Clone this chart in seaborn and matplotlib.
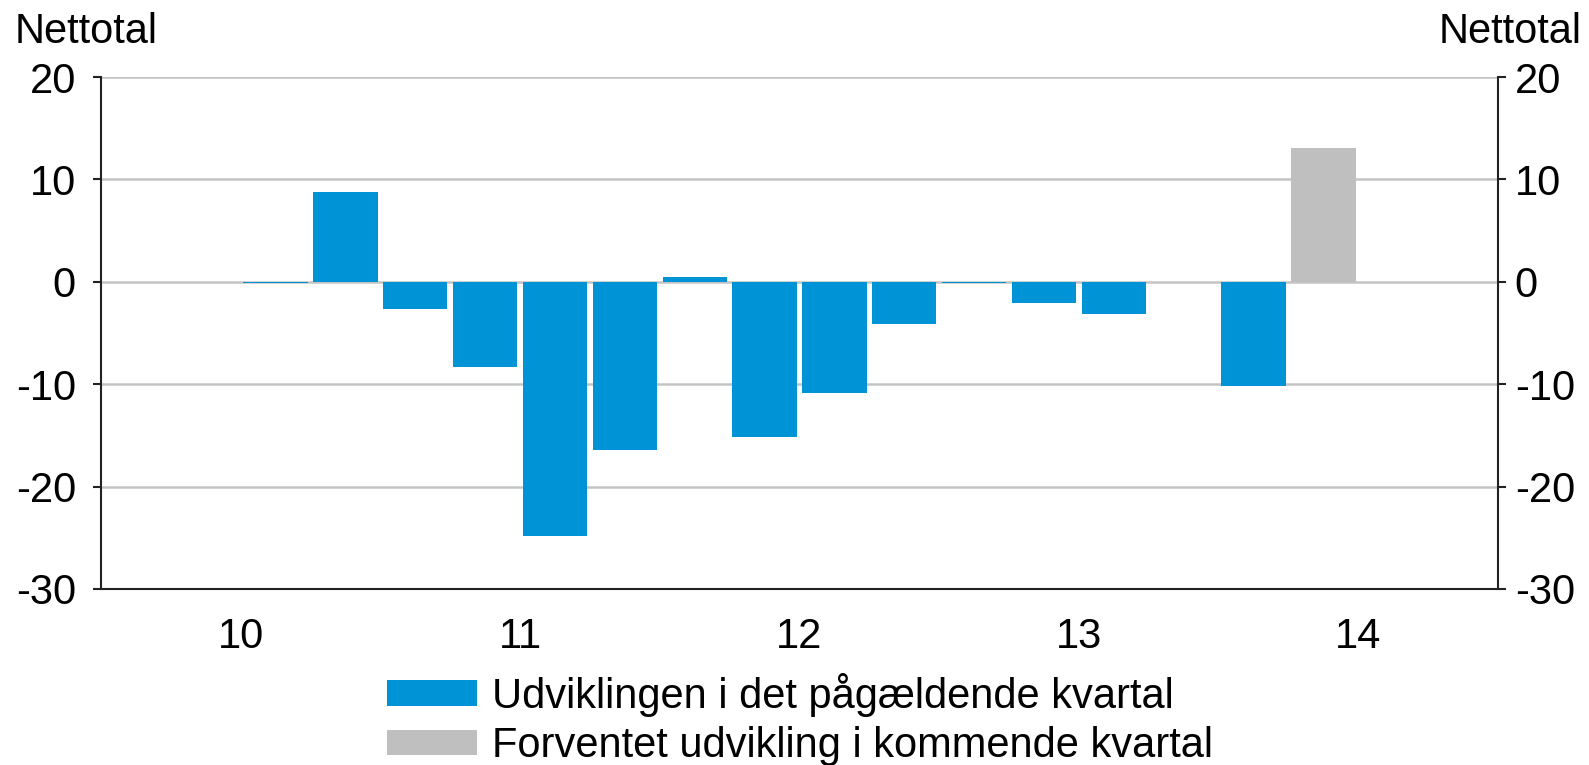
import numpy as np
import pandas as pd
import matplotlib
matplotlib.use("Agg")
import matplotlib.pyplot as plt
import seaborn as sns

# quarters 2010K1 .. 2014K4
years = ["10", "11", "12", "13", "14"]
quarters = [f"20{y}K{q}" for y in years for q in range(1, 5)]

# net balance, development in the current quarter (blank = no observation)
actual = [np.nan, np.nan, -0.15, 8.8,
          -2.7, -8.3, -24.8, -16.4,
          0.5, -15.2, -10.9, -4.1,
          -0.15, -2.1, -3.1, np.nan,
          -10.2, np.nan, np.nan, np.nan]
# expected development in coming quarter
expected = [np.nan] * 17 + [13.1, np.nan, np.nan]

lbl_actual = "Udviklingen i det pågældende kvartal"
lbl_expected = "Forventet udvikling i kommende kvartal"

df = pd.concat([
    pd.DataFrame({"kvartal": quarters, "nettotal": actual, "serie": lbl_actual}),
    pd.DataFrame({"kvartal": quarters, "nettotal": expected, "serie": lbl_expected}),
]).dropna()

sns.set_style("white")
plt.rcParams["font.family"] = ["Liberation Sans", "DejaVu Sans"]
plt.rcParams["axes.unicode_minus"] = False
plt.rcParams["text.color"] = "black"
plt.rcParams["xtick.color"] = "black"
plt.rcParams["ytick.color"] = "black"
fs = 30
plt.rcParams["font.size"] = fs

fig = plt.figure(figsize=(15.89, 7.65), dpi=100)
ax = fig.add_axes([101 / 1589, 1 - 589 / 765, 1397 / 1589, 512 / 765])

ax.set_ylim(-30, 20)
ax.set_yticks([-30, -20, -10, 0, 10, 20])
ax.yaxis.grid(True, color="#c4c4c4", linewidth=1.8)
ax.set_axisbelow(True)

sns.barplot(data=df, x="kvartal", y="nettotal", hue="serie", order=quarters,
            hue_order=[lbl_actual, lbl_expected],
            palette=["#0093d6", "#bfbfbf"], dodge=False, width=0.92,
            saturation=1, linewidth=0, ax=ax)
ax.set_xlim(-0.5, 19.5)
ax.set_ylim(-30, 20)

# year labels in the middle, ticks on year boundaries
ax.set_xticks([1.5, 5.5, 9.5, 13.5, 17.5])
ax.set_xticklabels(years)
ax.set_xticks([-0.5, 3.5, 7.5, 11.5, 15.5, 19.5], minor=True)
ax.tick_params(axis="x", which="major", length=0, pad=20, labelsize=fs)
ax.tick_params(axis="x", which="minor", length=12, width=1.5, color="#222222", direction="out")
ax.tick_params(axis="y", length=6, width=1.5, color="#222222", direction="out", pad=12, labelsize=fs)
ax.set_xlabel("")
ax.set_ylabel("")

for s in ["left", "bottom", "right"]:
    ax.spines[s].set_visible(True)
    ax.spines[s].set_color("#222222")
    ax.spines[s].set_linewidth(1.5)
ax.spines["top"].set_visible(False)

ax2 = ax.twinx()
ax2.set_ylim(-30, 20)
ax2.set_yticks([-30, -20, -10, 0, 10, 20])
ax2.tick_params(axis="y", length=6, width=1.5, color="#222222", direction="out", pad=6, labelsize=fs)
for s in ax2.spines.values():
    s.set_visible(False)

fig.text(15 / 1589, 1 - 32 / 765, "Nettotal", ha="left", va="center", fontsize=fs)
fig.text(1582 / 1589, 1 - 32 / 765, "Nettotal", ha="right", va="center", fontsize=fs)

sns.move_legend(ax, "upper left", bbox_to_anchor=(387 / 1589, 1 - 673 / 765),
                bbox_transform=fig.transFigure, frameon=False, title=None,
                fontsize=fs, handlelength=2.15, handleheight=0.58,
                handletextpad=0.38, labelspacing=0.22, borderpad=0, borderaxespad=0)

fig.savefig("out.png", dpi=100)
